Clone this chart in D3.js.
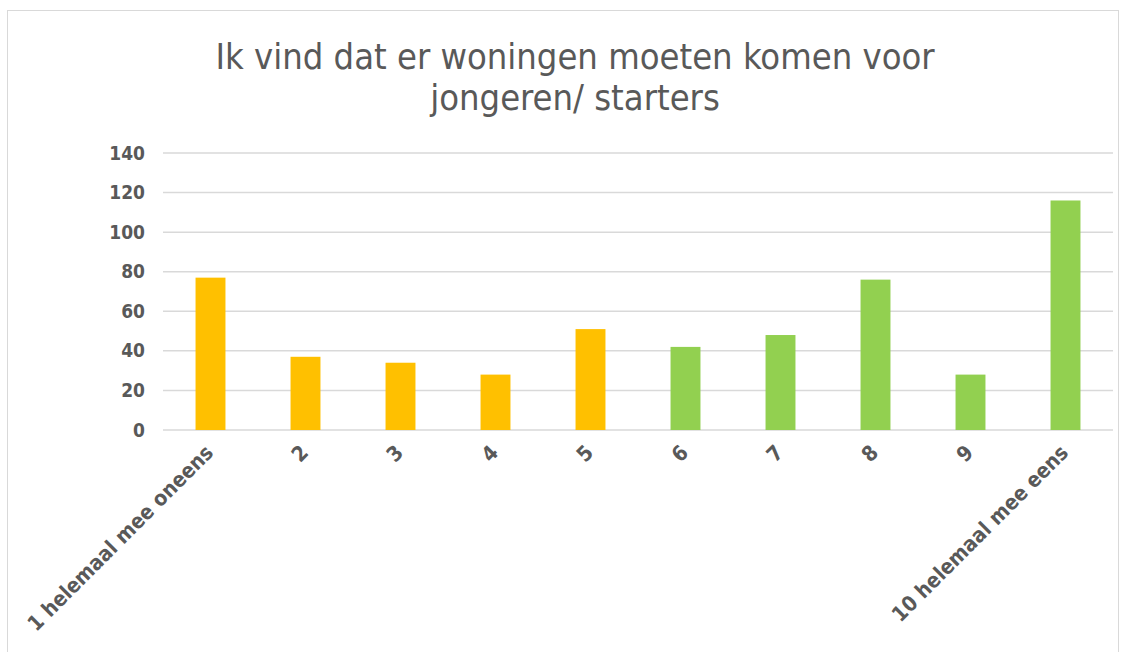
<!DOCTYPE html>
<html>
<head>
<meta charset="utf-8">
<script src="https://cdn.jsdelivr.net/npm/d3@7"></script>
<style>
  body { margin: 0; background: #fff; }
  text { font-family: "DejaVu Sans Condensed", "DejaVu Sans", sans-serif; fill: #595959; }
</style>
</head>
<body>
<div id="chart"></div>
<script>
var categories = ["1 helemaal mee oneens", "2", "3", "4", "5", "6", "7", "8", "9", "10 helemaal mee eens"];
var values = [77, 37, 34, 28, 51, 42, 48, 76, 28, 116];
var barColors = ["#FFC000", "#FFC000", "#FFC000", "#FFC000", "#FFC000",
                 "#92D050", "#92D050", "#92D050", "#92D050", "#92D050"];
var yTicks = [0, 20, 40, 60, 80, 100, 120, 140];
var titleLines = ["Ik vind dat er woningen moeten komen voor", "jongeren/ starters"];

var W = 1127, H = 652;
var margin = {top: 153, right: 14, bottom: 222, left: 163};
var width = W - margin.left - margin.right,
    height = H - margin.top - margin.bottom;

var svg = d3.select("#chart").append("svg")
  .attr("width", W)
  .attr("height", H);

// chart frame
svg.append("rect")
  .attr("x", 7.5).attr("y", 10.5)
  .attr("width", 1111).attr("height", 660)
  .attr("fill", "none")
  .attr("stroke", "#d9d9d9");

svg.append("text")
  .attr("x", 575)
  .attr("text-anchor", "middle")
  .style("font-size", "36px")
  .selectAll("tspan")
  .data(titleLines)
  .enter().append("tspan")
  .attr("x", 575)
  .attr("y", function(d, i) { return 69 + i * 41; })
  .text(function(d) { return d; });

var g = svg.append("g")
  .attr("transform", "translate(" + margin.left + "," + margin.top + ")");

var x = d3.scaleBand()
  .domain(categories)
  .range([0, width])
  .paddingInner(0.685)
  .paddingOuter(0.3425);

var y = d3.scaleLinear()
  .domain([0, 140])
  .range([height, 0]);

// gridlines
g.append("g")
  .selectAll("line")
  .data(yTicks)
  .enter().append("line")
  .attr("x1", 0).attr("x2", width)
  .attr("y1", function(d) { return y(d); })
  .attr("y2", function(d) { return y(d); })
  .attr("stroke", "#d9d9d9")
  .attr("stroke-width", 1.5);

g.selectAll(".bar")
  .data(values)
  .enter().append("rect")
  .attr("class", "bar")
  .attr("x", function(d, i) { return x(categories[i]); })
  .attr("y", function(d) { return y(d); })
  .attr("width", x.bandwidth())
  .attr("height", function(d) { return height - y(d); })
  .attr("fill", function(d, i) { return barColors[i]; });

var yAxis = g.append("g")
  .call(d3.axisLeft(y).tickValues(yTicks).tickSize(0).tickPadding(18));
yAxis.select(".domain").remove();
yAxis.selectAll("text")
  .style("font-size", "19px")
  .style("font-weight", "bold")
  .attr("fill", "#595959");

var xAxis = g.append("g")
  .attr("transform", "translate(0," + height + ")")
  .call(d3.axisBottom(x).tickSize(0).tickPadding(0));
xAxis.select(".domain").remove();
xAxis.selectAll("text")
  .style("font-size", "21px")
  .style("font-weight", "bold")
  .attr("fill", "#595959")
  .attr("text-anchor", "end")
  .attr("dy", "0")
  .attr("transform", "translate(4,24) rotate(-45)");
</script>
</body>
</html>
